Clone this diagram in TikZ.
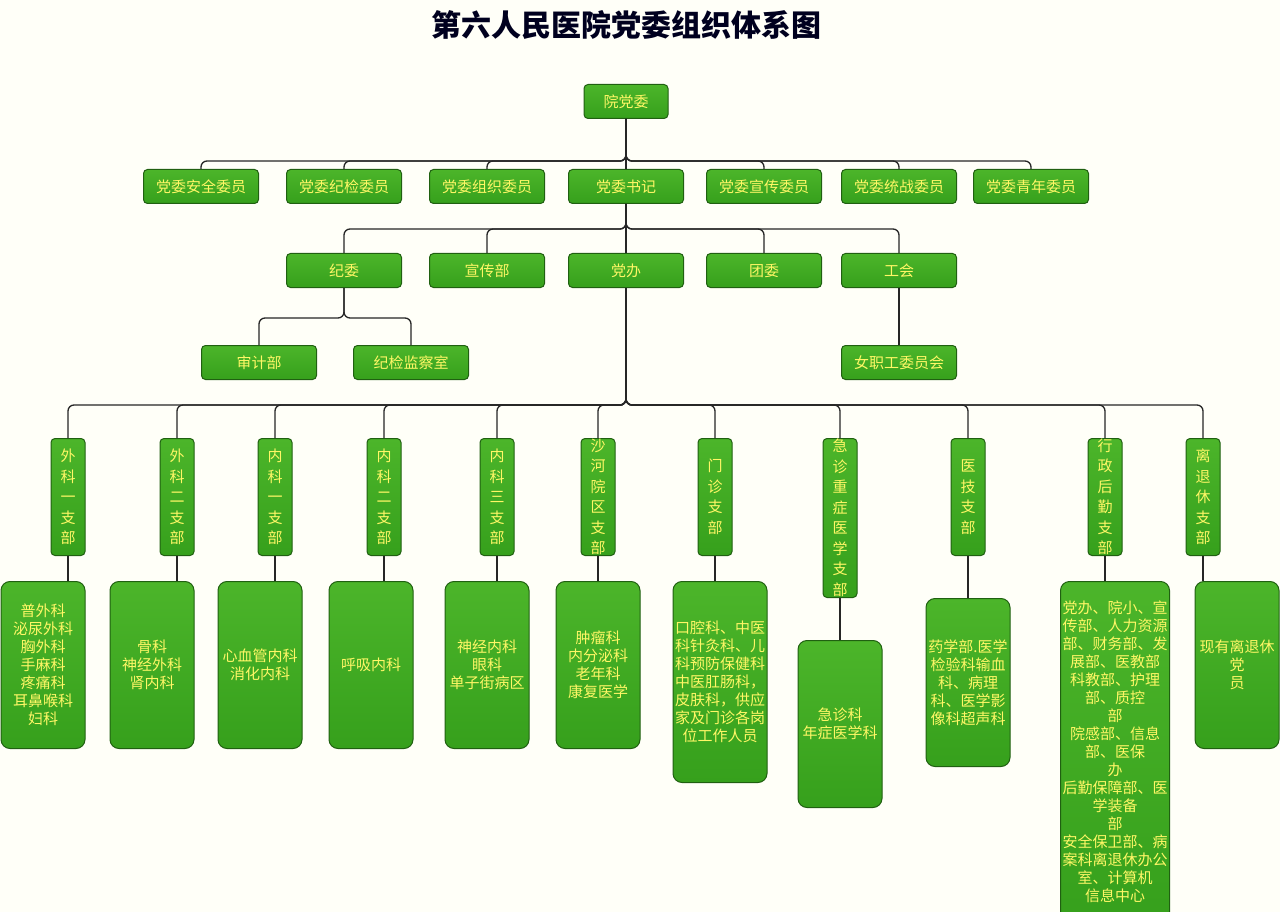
\documentclass[tikz,border=0pt]{standalone}
\usepackage{fontspec}
\setmainfont{Noto Sans CJK SC}
\begin{document}
\begin{tikzpicture}[x=1pt,y=-1pt,
 box/.style={draw=black!50!green!70!black,line width=1pt,rounded corners=4pt,top color=green!50!black!30!lime!90!black,bottom color=green!60!black,
   shading angle=0,text=yellow!60!white,font=\fontsize{15}{18}\selectfont,align=center,inner sep=0pt,anchor=north},
 conn/.style={draw=black!85,line width=1.3pt,rounded corners=6pt},
 vb/.style={box,minimum width=34,font=\fontsize{15}{20.5}\selectfont},
 bb/.style={box,minimum width=84,rounded corners=9pt}]
\definecolor{bg}{HTML}{FFFFF8}
\definecolor{gA}{HTML}{4CB52A}\definecolor{gB}{HTML}{36A01C}
\tikzset{box/.append style={top color=gA,bottom color=gB,draw=gB!60!black}}
\fill[bg] (0,0) rectangle (1280,912);
\useasboundingbox (0,0) rectangle (1280,912);
\node[font=\fontsize{30}{34}\selectfont\bfseries,text=black!70!blue!40!black] (title) at (626,25) {第六人民医院党委组织体系图};
\node[box,minimum width=84,minimum height=34] (root) at (626,84) {院党委};
\foreach \n/\x/\t in {a/201/党委安全委员,b/344/党委纪检委员,c/487/党委组织委员,d/626/党委书记,e/764/党委宣传委员,f/899/党委统战委员,g/1031/党委青年委员}
 {\node[box,minimum width=115,minimum height=34] (\n) at (\x,169) {\t};
  \draw[conn] (root.south) -- ++(0,42) -| (\n.north);}
\foreach \n/\x/\t in {jw/344/纪委,xc/487/宣传部,db/626/党办,tw/764/团委,gh/899/工会}
 {\node[box,minimum width=115,minimum height=34] (\n) at (\x,253) {\t};
  \draw[conn] (d.south) -- ++(0,25) -| (\n.north);}
\node[box,minimum width=115,minimum height=34] (sj) at (259,345) {审计部};
\node[box,minimum width=115,minimum height=34] (jc) at (411,345) {纪检监察室};
\node[box,minimum width=115,minimum height=34] (nz) at (899,345) {女职工委员会};
\draw[conn] (jw.south) -- ++(0,30) -| (sj.north);
\draw[conn] (jw.south) -- ++(0,30) -| (jc.north);
\draw[conn] (gh.south) -- (nz.north);
\foreach \n/\x/\h/\t in {v1/68/117/外\\科\\一\\支\\部,v2/177/117/外\\科\\二\\支\\部,v3/275/117/内\\科\\一\\支\\部,v4/384/117/内\\科\\二\\支\\部,v5/497/117/内\\科\\三\\支\\部,v6/598/117/沙\\河\\院\\区\\支\\部,v7/715/117/门\\诊\\支\\部,v8/840/159/急\\诊\\重\\症\\医\\学\\支\\部,v9/968/117/医\\技\\支\\部,v10/1105/117/行\\政\\后\\勤\\支\\部,v11/1203/117/离\\退\\休\\支\\部}
 {\node[vb,minimum height=\h] (\n) at (\x,438) {\t};
  \draw[conn] (db.south) -- ++(0,117) -| (\n.north);}
\node[bb,minimum height=167] (d1) at (43,581) {普外科\\泌尿外科\\胸外科\\手麻科\\疼痛科\\耳鼻喉科\\妇科};
\node[bb,minimum height=167] (d2) at (152,581) {骨科\\神经外科\\肾内科};
\node[bb,minimum height=167] (d3) at (260,581) {心血管内科\\消化内科};
\node[bb,minimum height=167] (d4) at (371,581) {呼吸内科};
\node[bb,minimum height=167] (d5) at (487,581) {神经内科\\眼科\\单子街病区};
\node[bb,minimum height=167] (d6) at (598,581) {肿瘤科\\内分泌科\\老年科\\康复医学};
\node[bb,minimum width=94,minimum height=201] (d7) at (720,581) {口腔科、中医\\科针灸科、儿\\科预防保健科\\中医肛肠科，\\皮肤科，供应\\家及门诊各岗\\位工作人员};
\node[bb,minimum height=167] (d8) at (840,640) {急诊科\\年症医学科};
\node[bb,minimum height=168] (d9) at (968,598) {药学部.医学\\检验科输血\\科、病理\\科、医学影\\像科超声科};
\node[bb,minimum width=109,minimum height=340] (d10) at (1115,581) {党办、院小、宣\\传部、人力资源\\部、财务部、发\\展部、医教部\\科教部、护理\\部、质控\\部\\院感部、信息\\部、医保\\办\\后勤保障部、医\\学装备\\部\\安全保卫部、病\\案科离退休办公\\室、计算机\\信息中心};
\node[bb,minimum height=167] (d11) at (1237,581) {现有离退休\\党\\员};
\foreach \i in {1,...,11} {\draw[conn] (v\i.south) -- (v\i.south |- d\i.north);}
\end{tikzpicture}
\end{document}
